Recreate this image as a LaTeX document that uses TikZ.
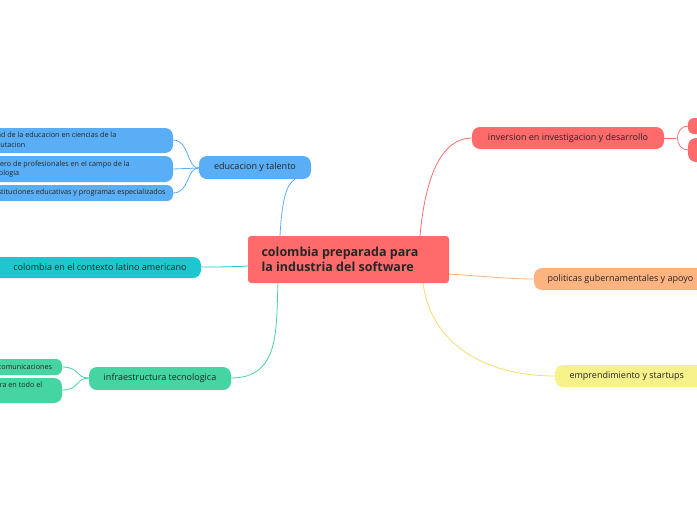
\documentclass[tikz,border=0pt]{standalone}
\usepackage{fontspec}
\setmainfont{Open Sans}
\begin{document}
\begin{tikzpicture}[x=1pt,y=-1pt,
 box/.style={rounded corners=8pt,draw=none},
 lbl/.style={font=\fontsize{9}{11}\selectfont,text=black!85},
 sml/.style={font=\fontsize{7.2}{9.5}\selectfont,text=black!85,align=left,anchor=west},
 ln/.style={line width=0.8pt}]
\useasboundingbox (0,0) rectangle (697,520);
\clip (0,0) rectangle (697,520);
\definecolor{cred}{HTML}{FF6B6B}\definecolor{cblue}{HTML}{5AAEF5}
\definecolor{ccyan}{HTML}{1CC7D0}\definecolor{cgreen}{HTML}{45D5A2}
\definecolor{corange}{HTML}{FFB380}\definecolor{cyel}{HTML}{F7F18A}
% connectors
\draw[ln,cblue] (280,236) .. controls (282,200) and (286,185) .. (295,179);
\draw[ln,ccyan] (248,266) .. controls (230,267) and (215,267) .. (201,267);
\draw[ln,cgreen] (278,283) .. controls (276,330) and (280,378) .. (231,378);
\draw[ln,cred] (420,236) .. controls (425,180) and (440,138) .. (472,138);
\draw[ln,corange] (449,274) .. controls (480,276) and (510,279) .. (534,279);
\draw[ln,cyel!80!orange] (423,283) .. controls (430,340) and (480,376) .. (555,376);
\draw[ln,cblue] (173,140) .. controls (190,140) and (186,168) .. (199,168);
\draw[ln,cblue] (173,169) -- (199,168);
\draw[ln,cblue] (173,193) .. controls (190,193) and (186,168) .. (199,168);
\draw[ln,cgreen] (62,367) .. controls (80,367) and (75,378) .. (89,378);
\draw[ln,cgreen] (62,390) .. controls (80,390) and (75,378) .. (89,378);
\draw[ln,cred] (664,138) -- (676,138);
\draw[ln,cred] (688,126) .. controls (674,126) and (674,150) .. (688,150);
% central
\fill[cred,rounded corners=3pt] (248,236) rectangle (449,283);
\node[anchor=west,align=left,font=\fontsize{12.5}{15}\bfseries\selectfont,text=black!85] (c) at (258,259.5) {colombia preparada para\\la industria del software};
% mains
\fill[cblue,box] (199,156) rectangle (311,179);
\node[lbl] (edu) at (255,167.5) {educacion y talento};
\fill[ccyan,box] (-20,257) rectangle (201,278);
\node[lbl] (col) at (100,267.5) {colombia en el contexto latino americano};
\fill[cgreen,box] (89,367) rectangle (231,390);
\node[lbl] (inf) at (160,378.5) {infraestructura tecnologica};
\fill[cred,box] (472,127) rectangle (664,149);
\node[lbl] (inv) at (568,138) {inversion en investigacion y desarrollo};
\fill[corange,box] (534,268) rectangle (720,290);
\node[lbl,anchor=west] (pol) at (544,279) {politicas gubernamentales y apoyo};
\fill[cyel,box] (555,365) rectangle (710,387);
\node[lbl,anchor=west] (emp) at (566,376) {emprendimiento y startups};
% sub nodes
\fill[cblue,box] (-150,128) rectangle (173,153);
\node[sml] (e1) at (-22,140.5) {calidad de la educacion en ciencias de la\\computacion};
\fill[cblue,box] (-150,156) rectangle (173,182);
\node[sml] (e2) at (-19,169) {numero de profesionales en el campo de la\\tecnologia};
\fill[cblue,rounded corners=6pt] (-150,185) rectangle (173,201);
\node[sml] (e3) at (-12,193) {instituciones educativas y programas especializados};
\fill[cgreen,rounded corners=6pt] (-150,359) rectangle (62,375);
\node[sml] (i1) at (-18,367) {telecomunicaciones};
\fill[cgreen,box] (-150,378) rectangle (62,403);
\node[sml] (i2) at (-47,390.5) {infraestructura en todo el\\pais};
\fill[cred,rounded corners=6pt] (688,118) rectangle (760,134);
\fill[cred,box] (688,138) rectangle (760,162);
\end{tikzpicture}
\end{document}
